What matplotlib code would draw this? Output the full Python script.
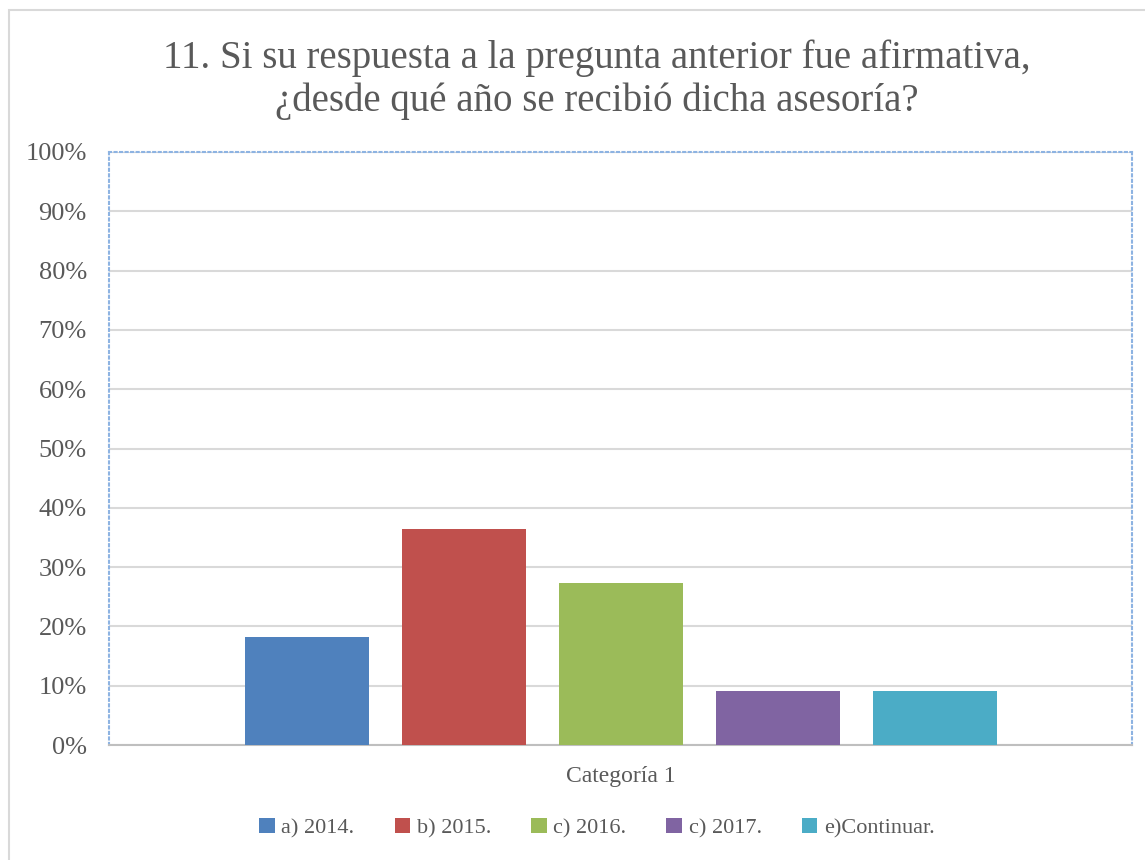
import numpy as np
import matplotlib.pyplot as plt
from matplotlib.patches import Rectangle

plt.rcParams['font.family'] = ['Liberation Serif', 'DejaVu Serif']

# data
category = 'Categoría 1'
series = ['a) 2014.', 'b) 2015.', 'c) 2016.', 'c) 2017.', 'e)Continuar.']
values = [0.1818, 0.3636, 0.2727, 0.0909, 0.0909]
colors = ['#4F81BD', '#C0504D', '#9BBB59', '#8064A2', '#4BACC6']

title = '11. Si su respuesta a la pregunta anterior fue afirmativa,\n¿desde qué año se recibió dicha asesoría?'

W, H = 1145, 860
fig = plt.figure(figsize=(W / 100, H / 100), dpi=100)
ax = fig.add_axes([109 / W, 1 - 745 / H, (1132 - 109) / W, (745 - 152) / H])

# outer chart frame
fig.patches.append(Rectangle((9 / W, -0.1), 1.2, 1 - 10 / H + 0.1,
                             transform=fig.transFigure, fill=False,
                             edgecolor='#d9d9d9', lw=1.5))

step = 157 / 1023
width = 124 / 1023
n = len(series)
for i, (lab, v, c) in enumerate(zip(series, values, colors)):
    ax.bar((i - (n - 1) / 2) * step, v, width=width, color=c, label=lab, zorder=3)

ax.set_xlim(-0.5, 0.5)
ax.set_ylim(0, 1)
ticks = np.arange(0, 1.01, 0.1)
ax.set_yticks(ticks)
ax.set_yticklabels(['%d%%' % round(t * 100) for t in ticks])
ax.set_xticks([0])
ax.set_xticklabels([category])
ax.tick_params(axis='both', length=0, colors='#595959')
ax.tick_params(axis='y', labelsize=19, pad=16)
ax.tick_params(axis='x', labelsize=17, pad=15)
ax.grid(axis='y', color='#d9d9d9', lw=1.5, zorder=0)

for s in ['left', 'top', 'right']:
    ax.spines[s].set_color('#8db3e2')
    ax.spines[s].set_linestyle(':')
    ax.spines[s].set_linewidth(1.5)
ax.spines['bottom'].set_color('#bfbfbf')
ax.spines['bottom'].set_linewidth(1.5)

fig.text(597 / W, 1 - 80 / H, title, ha='center', va='center', fontsize=28,
         color='#595959', linespacing=1.2)

leg = fig.legend(loc='center', bbox_to_anchor=(597 / W, 1 - 828 / H), ncol=n,
                 frameon=False, fontsize=16, handlelength=0.7, handleheight=0.7,
                 columnspacing=1.8, handletextpad=0.3)
for t in leg.get_texts():
    t.set_color('#595959')

fig.savefig('out.png', dpi=100)
